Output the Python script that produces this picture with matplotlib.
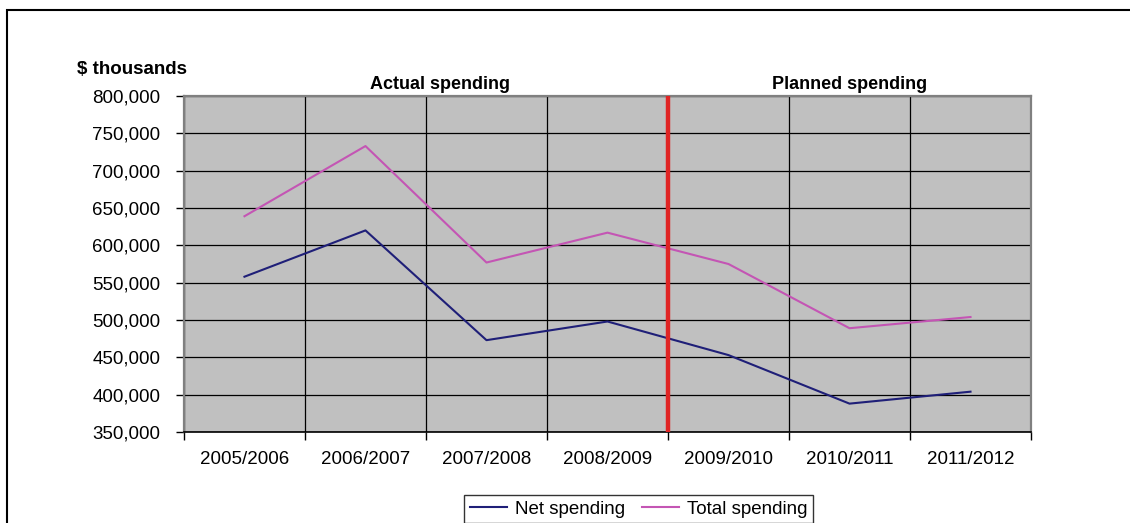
import matplotlib
matplotlib.use("Agg")
import matplotlib.pyplot as plt
from matplotlib.patches import Rectangle

plt.rcParams['font.family'] = ['Liberation Sans', 'DejaVu Sans']

years = ["2005/2006", "2006/2007", "2007/2008", "2008/2009",
         "2009/2010", "2010/2011", "2011/2012"]
net_spending = [558000, 620000, 473000, 498000, 453000, 388000, 404000]
total_spending = [639000, 733000, 577000, 617000, 575000, 489000, 504000]
y_ticks = [350000, 400000, 450000, 500000, 550000, 600000, 650000, 700000, 750000, 800000]
actual_end = 3.5  # boundary between actual and planned years

fig = plt.figure(figsize=(11.3, 5.23), dpi=100)
ax = fig.add_axes([0.1628, 0.174, 0.7496, 0.6424])
ax.set_facecolor("#c0c0c0")

x = list(range(len(years)))
ax.plot(x, net_spending, color="#1f1f78", lw=1.5, label="Net spending", zorder=3)
ax.plot(x, total_spending, color="#c455b4", lw=1.5, label="Total spending", zorder=3)
ax.axvline(actual_end, color="#e02424", lw=3.2, zorder=4)

ax.set_xlim(-0.5, len(years) - 0.5)
ax.set_ylim(y_ticks[0], y_ticks[-1])
ax.set_yticks(y_ticks)
ax.set_yticklabels([f"{v:,}" for v in y_ticks])

# boundaries get tick marks, category centres get the labels
ax.set_xticks([i - 0.5 for i in range(len(years) + 1)])
ax.set_xticklabels([])
ax.set_xticks(x, minor=True)
ax.set_xticklabels(years, minor=True)
ax.tick_params(axis="x", which="major", length=6, width=1, color="black")
ax.tick_params(axis="x", which="minor", length=0, pad=14, labelsize=13.5)
ax.tick_params(axis="y", length=6, width=1, pad=11, labelsize=13.5)

ax.grid(True, which="major", color="black", lw=0.9, zorder=1)
ax.set_axisbelow(True)
for side in ["top", "right", "left"]:
    ax.spines[side].set_color("#808080")
    ax.spines[side].set_linewidth(1.6)
ax.spines["bottom"].set_color("black")
ax.spines["bottom"].set_linewidth(1.2)

ax.text(0.004, 1.055, "$ thousands", transform=ax.transAxes,
        ha="right", va="bottom", fontsize=13.5, fontweight="bold")
ax.text(1.62, 1.01, "Actual spending", transform=ax.get_xaxis_transform(),
        ha="center", va="bottom", fontsize=13, fontweight="bold")
ax.text(5.0, 1.01, "Planned spending", transform=ax.get_xaxis_transform(),
        ha="center", va="bottom", fontsize=13, fontweight="bold")

leg = fig.legend(loc="upper center", bbox_to_anchor=(0.565, 1 - 495 / 523), ncol=2,
                 fontsize=13.5, frameon=True, fancybox=False, handlelength=2.0,
                 columnspacing=0.9, borderpad=0.3, handletextpad=0.4,
                 borderaxespad=0)
leg.get_frame().set_edgecolor("black")
leg.get_frame().set_linewidth(1.0)

# outer frame around the chart, running off the right and bottom edges
fig.patches.append(Rectangle((7 / 1130, -0.1), 1.2, 1.1 - 10 / 523,
                             transform=fig.transFigure, fill=False,
                             edgecolor="black", lw=1.5, clip_on=False))
fig.text(0.012, 1.0085, "Figure 2: Spending Trends", ha="left", va="baseline",
         fontsize=15, fontweight="bold")

fig.savefig("out.png", dpi=100)
